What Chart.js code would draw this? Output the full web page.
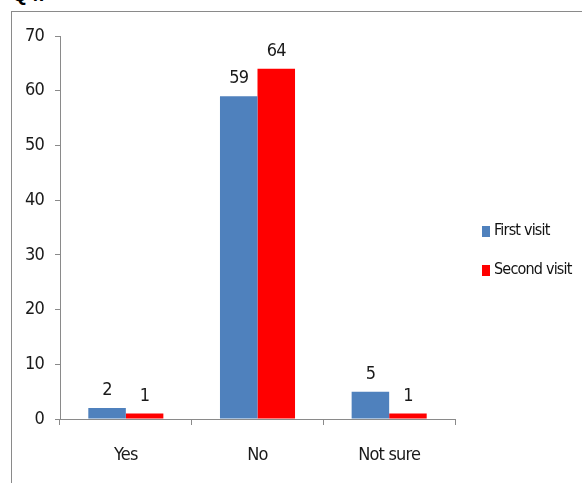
<!DOCTYPE html>
<html>
<head>
<meta charset="utf-8">
<script src="https://cdn.jsdelivr.net/npm/chart.js@4"></script>
<style>
  html, body { margin: 0; padding: 0; background: #fff; overflow: hidden; }
  .page { position: relative; width: 582px; height: 483px; }
  .heading { position: absolute; left: 12px; top: -17px; font: bold 20px "Liberation Sans", sans-serif; color: #000; }
  .frame { position: absolute; left: 11px; top: 11px; width: 700px; height: 600px; border: 1px solid #8a8a8a; }
  canvas { position: absolute; left: 0; top: 0; }
</style>
</head>
<body>
<div class="page">
  <div class="heading">Q4.</div>
  <div class="frame"></div>
  <canvas id="visitChart" width="582" height="483"></canvas>
</div>
<script>
document.addEventListener('DOMContentLoaded', function() {

    // answers and counts per visit
    const categories = ['Yes', 'No', 'Not sure'];
    const firstVisit = [2, 59, 5];
    const secondVisit = [1, 64, 1];
    const seriesNames = ['First visit', 'Second visit'];
    const yTicks = [0, 10, 20, 30, 40, 50, 60, 70];

    const FONT = '"DejaVu Sans Condensed", sans-serif';
    const axisGray = '#8a8a8a';

    // tighter letters for all canvas text (narrow look)
    const tightText = {
        id: 'tightText',
        beforeDraw(chart) { chart.ctx.letterSpacing = '-0.8px'; }
    };

    // value printed above every bar
    const barLabels = {
        id: 'barLabels',
        afterDatasetsDraw(chart) {
            const ctx = chart.ctx;
            ctx.save();
            ctx.font = '18px ' + FONT;
            ctx.fillStyle = '#1a1a1a';
            ctx.textAlign = 'center';
            ctx.textBaseline = 'alphabetic';
            chart.data.datasets.forEach(function(ds, i) {
                chart.getDatasetMeta(i).data.forEach(function(bar, j) {
                    ctx.fillText(String(ds.data[j]), bar.x, bar.y - 13);
                });
            });
            ctx.restore();
        }
    };

    // legend on the right, boxes + names
    const sideLegend = {
        id: 'sideLegend',
        afterDraw(chart) {
            const ctx = chart.ctx;
            ctx.save();
            ctx.font = '16px ' + FONT;
            ctx.textBaseline = 'middle';
            ctx.textAlign = 'left';
            chart.data.datasets.forEach(function(ds, i) {
                const y = 231 + i * 39;
                ctx.fillStyle = ds.backgroundColor;
                ctx.fillRect(482, y - 5, 8, 11);
                ctx.fillStyle = '#111';
                ctx.fillText(ds.label, 494, y);
            });
            ctx.restore();
        }
    };

    new Chart(document.getElementById('visitChart').getContext('2d'), {
        type: 'bar',
        data: {
            labels: categories,
            datasets: [
                { label: seriesNames[0], data: firstVisit, backgroundColor: '#4f81bd' },
                { label: seriesNames[1], data: secondVisit, backgroundColor: '#ff0000' }
            ]
        },
        options: {
            responsive: false,
            animation: false,
            layout: { padding: { top: 36, right: 127, left: 0, bottom: 0 } },
            datasets: { bar: { categoryPercentage: 0.57, barPercentage: 1.0 } },
            scales: {
                x: {
                    afterFit: function(scale) { scale.height = 64; },
                    grid: { offset: true, drawOnChartArea: false, drawTicks: true, tickLength: 6, color: axisGray },
                    border: { display: true, color: axisGray, width: 1 },
                    ticks: { color: '#1a1a1a', font: { family: FONT, size: 18 }, padding: 20, maxRotation: 0 }
                },
                y: {
                    min: 0,
                    max: 70,
                    afterFit: function(scale) { scale.width = 60; },
                    afterBuildTicks: function(scale) { scale.ticks = yTicks.map(v => ({ value: v })); },
                    grid: { drawOnChartArea: false, drawTicks: true, tickLength: 5, color: axisGray },
                    border: { display: true, color: axisGray, width: 1 },
                    ticks: { color: '#1a1a1a', font: { family: FONT, size: 18 }, padding: 11 }
                }
            },
            plugins: {
                legend: { display: false },
                tooltip: { enabled: false }
            }
        },
        plugins: [tightText, barLabels, sideLegend]
    });
});
</script>
</body>
</html>
